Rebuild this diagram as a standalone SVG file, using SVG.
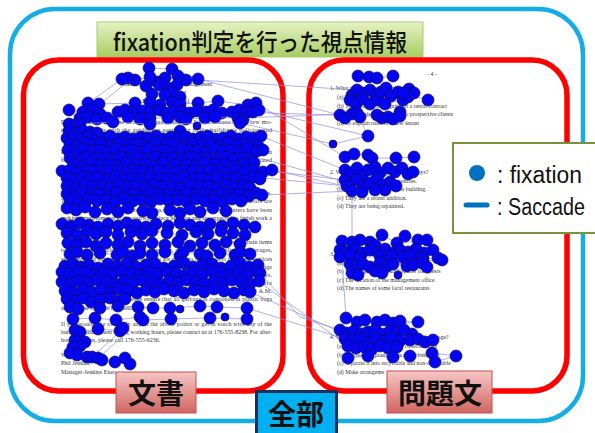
<svg xmlns="http://www.w3.org/2000/svg" width="595" height="433" viewBox="0 0 595 433">
<defs>
<linearGradient id="gTitle" x1="0" y1="0" x2="0" y2="1"><stop offset="0" stop-color="#e6f2c4"/><stop offset="1" stop-color="#a7cd62"/></linearGradient>
<linearGradient id="gRed" x1="0" y1="0" x2="0" y2="1"><stop offset="0" stop-color="#f6c6c4"/><stop offset="1" stop-color="#d06662"/></linearGradient>
<marker id="fx" markerUnits="userSpaceOnUse" markerWidth="14" markerHeight="14" refX="7" refY="7" overflow="visible"><circle cx="7" cy="7" r="6" fill="#0505f5" stroke="#101050" stroke-width="0.7"/></marker>
<style>
.doc{font-family:"Liberation Serif",serif;font-size:6px;fill:#333}
.q{font-family:"Liberation Serif",serif;font-size:5.8px;fill:#333}
.s{fill:none;stroke:#8c8cde;stroke-width:0.7}
.p{fill:none;stroke:#8c8cde;stroke-width:0.7;marker-start:url(#fx);marker-mid:url(#fx);marker-end:url(#fx)}
.sm{fill:#0505f5;stroke:#101050;stroke-width:0.7}
.lbl{font-family:"Noto Sans CJK JP",sans-serif;font-weight:700;fill:#111;text-anchor:middle}
.leg{font-family:"Liberation Sans","Noto Sans CJK JP",sans-serif;font-size:20px;fill:#111}
</style>
</defs>
<rect width="595" height="433" fill="#fff"/>
<rect id="all-frame" x="10" y="9" width="573" height="412" rx="45" fill="none" stroke="#14ade6" stroke-width="4.5"/>
<g id="title">
<rect x="97" y="22" width="326" height="35" fill="url(#gTitle)" stroke="#a9cd6c" stroke-width="1"/>
<text x="113" y="51" font-family="Noto Sans CJK JP, sans-serif" font-size="24" font-weight="500" fill="#111" textLength="294" lengthAdjust="spacingAndGlyphs">fixation判定を行った視点情報</text>
</g>
<rect id="doc-frame" x="23.5" y="60" width="259.5" height="331" rx="35" fill="none" stroke="#ff0000" stroke-width="5.5"/>
<rect id="q-frame" x="309" y="60" width="258" height="331" rx="35" fill="none" stroke="#ff0000" stroke-width="5.5"/>
<g id="document-text" class="doc">
<text x="166" y="86" text-anchor="middle">Jenkins Executive Suites Management</text>
<text x="166" y="94" text-anchor="middle">21 Birch Avenue</text>
<text x="166" y="103" text-anchor="middle">Fairfield, CT 06431</text>
<text x="61" y="124" textLength="211">Dear Tenants: Welcome to the Jenkins Executive Suites. Please take a few mo-</text>
<text x="61" y="132" textLength="211">ments to comply with the guidelines pertaining to the building's policies and</text>
<text x="61" y="141">bylaws.</text>
<text x="61" y="154" textLength="211">Please note that the parking lot is reserved for tenants only. Visitor parking spaces can</text>
<text x="61" y="162" textLength="211">be found on the street in front of the building. Parking space B12 is designated</text>
<text x="61" y="171" textLength="211">for freight deliveries, and tenants must not park in the loading area at the</text>
<text x="61" y="179">back of the building.</text>
<text x="61" y="195" textLength="211">The stairways at both ends of the building are to be used only in emergencies.</text>
<text x="61" y="203" textLength="211">Tenants are asked to use the elevators at all other times, although elevators are</text>
<text x="61" y="212" textLength="211">occasionally closed for maintenance on weekends. Incidentally, painters have been</text>
<text x="61" y="220" textLength="211">making improvements to the stairways since Monday and are expected to finish work a</text>
<text x="61" y="229">week from today.</text>
<text x="61" y="244" textLength="211">As part of our services, we have arranged for several companies to deliver certain items</text>
<text x="61" y="252" textLength="211">to your offices, including an office supplier, a caterer, and a supplier of beverages,</text>
<text x="61" y="261" textLength="211">stationery and other office supplies. You are under no obligation to use these services</text>
<text x="61" y="269" textLength="211">but we recommend them for their quality and reasonable prices. Regarding garbage</text>
<text x="61" y="277" textLength="211">disposal, please note that garbage is collected by the city on Tuesdays and Fridays.</text>
<text x="61" y="285" textLength="211">Tenants are reminded that the garbage containers for the building are</text>
<text x="61" y="293" textLength="211">available for use on the lower level of section B2 between the hours of 9 A.M.</text>
<text x="61" y="301" textLength="211">and 5 P.M. on weekdays. Please ensure that all garbage is contained in plastic bags</text>
<text x="61" y="310">and that the tops are fastened.</text>
<text x="61" y="326" textLength="211">If you would like to clarify any of the above points or get in touch with any of the</text>
<text x="61" y="334" textLength="211">building management during working hours, please contact us at 176-555-8238. For after-</text>
<text x="61" y="342">hours services, please call 176-555-6236.</text>
<text x="61" y="357">Warm regards,</text>
<text x="61" y="365">Phil Jenkins</text>
<text x="61" y="374">Manager-Jenkins Exec</text>
</g>
<g id="question-text" class="q">
<text x="432" y="76" text-anchor="middle">- 4 -</text>
<text x="330" y="90">1. What is the purpose of the notice?</text>
<text x="337" y="99">(a) To ask tenants for information</text>
<text x="337" y="108">(b) To announce the signing of a rental contract</text>
<text x="337" y="116">(c) To advertise office space to prospective clients</text>
<text x="337" y="125">(d) To explain rules to a new tenant</text>
<text x="330" y="174">2. What is mentioned about the stairways?</text>
<text x="337" y="183">(a) They are only for emergencies.</text>
<text x="337" y="191">(b) They are at the end of the building.</text>
<text x="337" y="200">(c) They are a recent addition.</text>
<text x="337" y="208">(d) They are being repainted.</text>
<text x="330" y="256">3. What is NOT mentioned in the letter?</text>
<text x="337" y="265">(a) Information about delivery services</text>
<text x="337" y="273">(b) The location of parking spaces for guests</text>
<text x="337" y="282">(c) The location of the management office</text>
<text x="337" y="290">(d) The names of some local restaurants</text>
<text x="330" y="339">4. What are tenants asked to do with their garbage?</text>
<text x="337" y="348">(a) Store it in the office until collection day</text>
<text x="337" y="357">(b) Deliver it in plastic bags to the basement</text>
<text x="337" y="365">(c) Separate it into recyclable and non-recyclable</text>
<text x="337" y="374">(d) Make arrangeme</text>
</g>
<g id="saccades">
<path class="s" d="M150,77 L357,90 M198,79 L340,115 M256,103 L345,157 M232,112 L340,115 M240,123 L333,144 M261,136 L345,170 M230,150 L350,183 M272,170 L345,186 M254,177 L347,186 M262,195 L352,191 M180,160 L345,180 M238,118 L352,114 M259,110 L368,136 M260,273 L300,317 L340,330 M250,292 L343,333 M258,281 L340,340 M247,308 L342,338 M130,80 L100,104 M98,358 L130,330 M333,144 L368,136 L357,113 M352,191 L352,238 M343,273 L346,318 M122,79 L88,103 M92,357 L122,330"/>
</g>
<g id="fixations">
<polyline class="p" points="149,68 172,69 198,79 186,80 178,76 165,78 157,82 150,77 135,80 128,78 122,79 146,86 160,85 168,88 177,85 180,97 172,92 165,95 152,94"/>
<polyline class="p" points="88,103 99,104 135,103 150,102 160,105 172,102 180,104 198,103 218,101 248,105 256,103"/>
<polyline class="p" points="69,110 83,112 93,110 100,114 118,112 125,110 133,113 143,111 151,112 160,110 166,113 173,112 182,111 190,113 197,111 206,112 213,110 222,113 232,112 239,110 246,113 253,112 259,110"/>
<polyline class="p" points="80,118 88,117 97,119 107,118 128,117 140,119 150,118 168,118 180,117 186,119 205,118 215,117 238,118 243,120"/>
<polyline class="p" points="69,124 75,125 80,124 113,122 150,124 240,123"/>
<polyline class="p" points="69,131 76,133 83,131 90,132 97,133 180,131"/>
<polyline class="p" points="67,138 74,136 81,139 88,137 95,140 103,138 110,136 118,139 125,137 133,139 141,137 148,138 156,136 163,139 171,137 178,138 186,137 193,139 201,137 208,136 216,139 223,138 231,136 238,139 246,137 253,138 261,136"/>
<polyline class="p" points="70,144 78,146 86,143 94,145 101,144 112,146 120,143 129,145 137,144 146,146 155,143 166,145 175,144 184,146 193,143 202,145 211,144 220,146 229,143 238,145 247,144 258,146"/>
<polyline class="p" points="68,150 76,152 84,149 92,151 100,150 108,152 116,149 124,151 132,150 140,152 148,149 157,151 165,150 173,152 182,149 190,151 198,150 206,152 215,149 223,151 231,150 240,152 248,149 257,151 263,150"/>
<polyline class="p" points="70,158 79,160 87,157 95,159 104,158 112,160 121,157 129,159 138,158 147,160 156,157 164,159 173,158 181,160 190,157 199,159 207,158 216,160 225,157 234,159 243,158 252,160"/>
<polyline class="p" points="74,164 83,166 91,163 100,165 109,164 118,166 127,163 136,165 145,164 154,166 163,163 175,165 186,164 196,166 205,163 214,165 224,164 233,166 244,164 254,163"/>
<polyline class="p" points="62,171 70,170 78,172 86,170 94,171 102,172 110,170 118,171 127,172 135,170 143,171 151,172 159,170 168,171 176,172 184,170 193,171 201,172 210,170 218,171 227,172 236,170 245,171 254,170 263,172 272,170"/>
<polyline class="p" points="67,178 75,180 83,177 91,179 99,178 108,180 116,177 124,179 133,178 141,180 150,177 158,179 167,178 175,180 184,177 193,179 201,178 210,180 218,177 227,179 236,178 245,180 254,177 260,179"/>
<polyline class="p" points="67,186 76,188 84,185 93,187 102,186 110,188 119,185 128,187 137,186 146,188 154,185 163,187 172,186 181,188 190,185 199,187 208,186 217,188 226,185 235,187 243,186 250,188"/>
<polyline class="p" points="67,194 75,196 83,193 92,195 100,194 109,196 117,193 126,195 135,194 143,196 152,193 161,195 170,194 178,196 187,193 196,195 205,194 214,196 223,193 232,195 240,194 249,196 256,193 262,195"/>
<polyline class="p" points="70,200 79,202 88,199 97,201 106,200 115,202 124,199 133,201 142,200 151,202 160,199 169,201 178,200 187,202 196,199 205,201 214,200 223,202 232,199 241,201"/>
<polyline class="p" points="67,208 76,210 85,207 95,212 107,209 118,212 128,208 143,211 152,213 170,210 180,213 190,209 200,212 213,208 226,211"/>
<polyline class="p" points="62,224 71,226 80,223 89,225 98,227 108,224 118,226 127,223 136,225 146,227 156,224 168,226 180,223 190,225 200,227 210,224 222,226 233,223 244,225 255,227"/>
<polyline class="p" points="67,233 77,235 87,231 96,234 106,232 118,235 131,232 142,234 152,231 167,233 182,235 196,232 208,234 221,231 233,233 245,235"/>
<polyline class="p" points="68,243 77,245 86,242 96,246 106,243 118,245 128,242 140,246 152,243 165,245 178,242 190,246 202,243 215,245 226,242 240,244"/>
<polyline class="p" points="70,254 77,252 87,255 100,253 117,255 123,252 133,256 140,253 152,255 165,252 180,256 183,252 200,254 207,256 220,253 235,255 240,252 250,254"/>
<polyline class="p" points="65,266 73,264 81,267 89,265 98,268 108,264 117,266 127,263 136,267 146,265 155,264 164,268 174,266 184,263 193,267 202,265 212,264 221,268 231,266 240,263 249,267 258,265"/>
<polyline class="p" points="62,272 70,274 79,271 87,273 96,275 104,272 113,274 122,271 131,273 140,275 149,272 158,274 167,271 176,273 185,275 194,272 203,274 212,271 221,273 230,275 239,272 248,274 257,271 260,273"/>
<polyline class="p" points="62,282 71,284 79,281 88,283 97,280 106,282 115,284 124,281 133,283 142,280 151,282 160,284 169,281 178,283 187,280 196,282 205,284 214,281 223,283 232,280 241,282 250,284 259,281"/>
<polyline class="p" points="65,291 74,293 83,289 92,292 101,290 110,293 119,289 128,291 137,293 146,290 155,292 164,289 174,291 184,293 194,290 204,292 214,289 224,291 234,293 244,290 250,292"/>
<polyline class="p" points="67,299 75,301 83,298 91,302 100,300 110,298 118,301 125,299"/>
<polyline class="p" points="70,307 78,309 100,308 118,306 138,307 153,308 170,308 200,306 217,307 247,308"/>
<polyline class="p" points="73,319 95,318 116,320 140,317 143,320 171,319 210,318 247,319"/>
<polyline class="p" points="75,330 80,332 98,329 120,331 123,328"/>
<polyline class="p" points="75,340 85,342 80,346 73,347 70,353 77,355 87,357 92,357 98,358 102,360 115,362 125,358 130,364"/>
<circle class="sm" cx="180" cy="309" r="4"/>
<circle class="sm" cx="225" cy="317" r="4"/>
<circle class="sm" cx="197" cy="126" r="4"/>
<polyline class="p" points="358,76 369,77 377,78 393,76"/>
<polyline class="p" points="352,95 357,90 363,93 370,90 376,95 350,100 356,104 363,99 370,104 378,100 381,92 386,88 391,96 398,92 403,100 385,104 409,89 414,93 408,97 403,93 428,100"/>
<polyline class="p" points="340,115 345,118 352,114 357,113 360,117 377,115 382,118 388,117 393,119 400,112 400,116"/>
<polyline class="p" points="368,136"/>
<circle class="sm" cx="333" cy="144" r="4"/>
<polyline class="p" points="345,157 354,154 368,155 372,158 396,158 414,157"/>
<polyline class="p" points="345,170 350,173 357,168 362,176 368,170 375,167 380,173 388,168 395,172 402,168 408,174 413,172 345,180 350,183 357,180 363,187 370,183 377,178 383,185 390,182 396,186 385,190 375,190 347,186 352,191 362,192"/>
<polyline class="p" points="342,241 352,242 360,240 370,242 375,245 382,235 397,243 405,236 418,240 427,240 340,250 347,252 355,249 362,253 370,250 378,252 385,249 393,253 400,250 408,252 416,249 424,253 433,250"/>
<polyline class="p" points="340,257 350,255 360,258 380,256 387,258 392,256 403,257 410,255 420,257 423,259 438,258 442,260 350,264 357,266 363,264 370,267 380,263 387,266 393,264 407,266 413,265 422,263 427,267 352,273 358,275 375,271 382,273"/>
<circle class="sm" cx="398" cy="275" r="4"/>
<polyline class="p" points="346,318 357,322 365,320 377,322 385,320 393,323 400,321 418,322 340,330 347,333 354,331 361,334 368,332 375,330 382,334 390,331 397,333 404,330 412,334"/>
<polyline class="p" points="345,339 352,341 360,338 368,342 376,339 384,341 392,338 400,341 410,340 418,339 425,342 433,340 348,346 356,348 364,347 372,349 380,346 388,348 397,347"/>
<polyline class="p" points="348,358 368,356 393,357 410,356 432,353 456,356 435,362"/>
</g>
<g id="label-doc">
<rect x="116" y="372" width="80" height="41" fill="url(#gRed)" stroke="#c0504d" stroke-width="1"/>
<text class="lbl" x="156" y="404" font-size="28">文書</text>
</g>
<g id="label-question">
<rect x="387" y="371" width="105" height="42" fill="url(#gRed)" stroke="#c0504d" stroke-width="1"/>
<text class="lbl" x="440" y="404" font-size="28">問題文</text>
</g>
<g id="label-all">
<path d="M256.5,433 V391.5 H336.5 V433" fill="#00b0f0" stroke="#1b2f5e" stroke-width="3"/>
<text class="lbl" x="296" y="425" font-size="28">全部</text>
</g>
<g id="legend">
<path d="M595,143 H453 V233 H595 Z" fill="#fff" stroke="none"/>
<path d="M595,143 H453 V233 H595" fill="none" stroke="#77933c" stroke-width="2"/>
<circle cx="477" cy="173" r="8" fill="#0070c0"/>
<text class="leg" transform="translate(497,183) scale(1,1.15)" textLength="85" lengthAdjust="spacingAndGlyphs">: fixation</text>
<line x1="466" y1="205" x2="487" y2="205" stroke="#0070c0" stroke-width="5" stroke-linecap="round"/>
<text class="leg" transform="translate(497,215) scale(1,1.15)" textLength="88" lengthAdjust="spacingAndGlyphs">: Saccade</text>
</g>
</svg>
